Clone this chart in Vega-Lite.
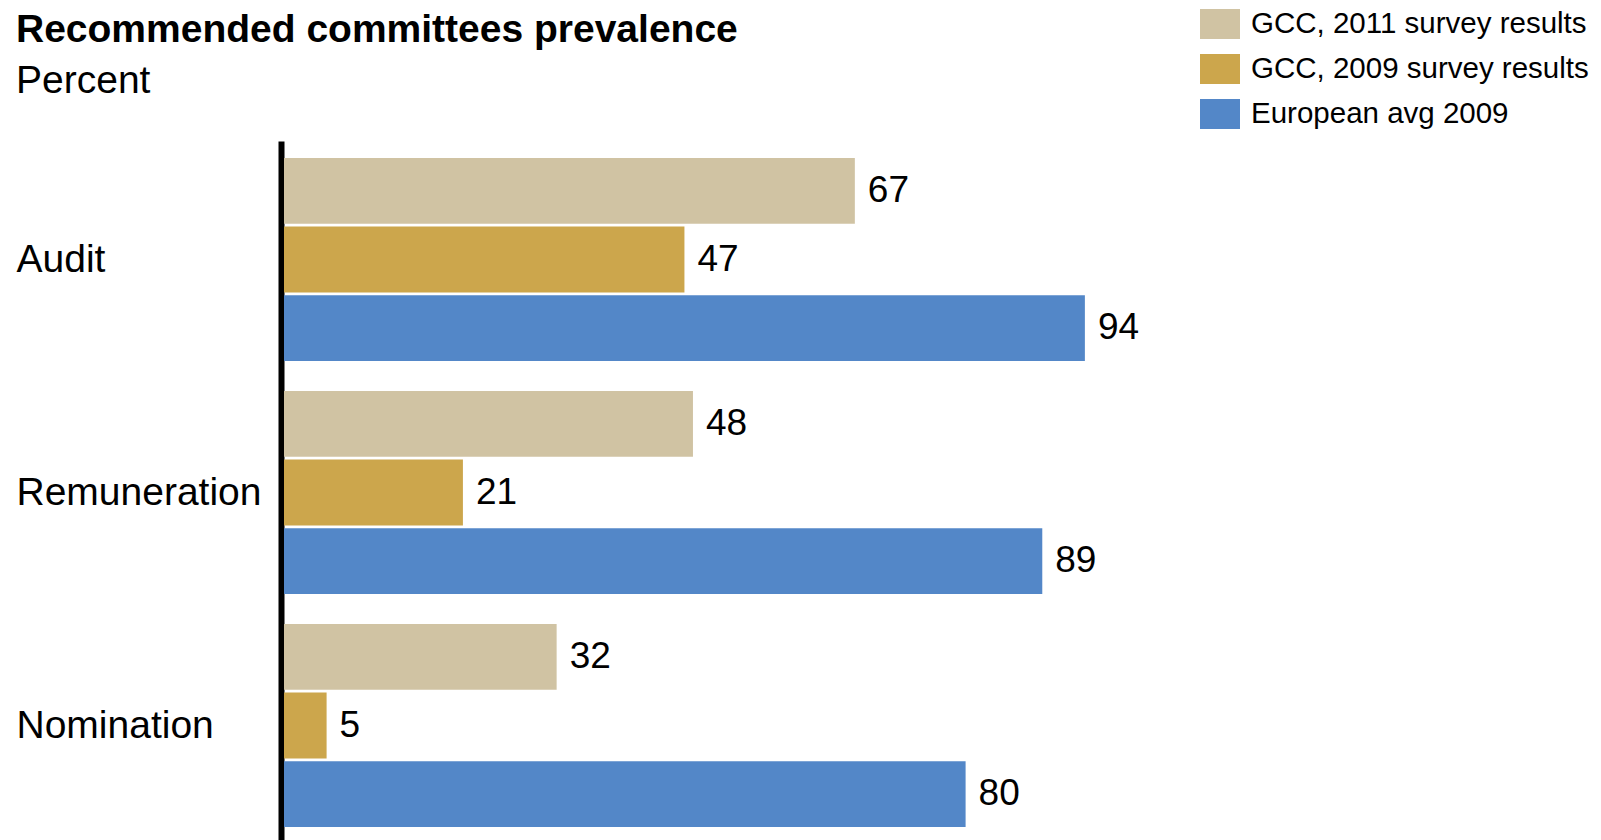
{
  "$schema": "https://vega.github.io/schema/vega-lite/v6.json",
  "autosize": "none",
  "width": 852,
  "height": 699,
  "padding": {"left": 284, "top": 141, "right": 465, "bottom": 0},
  "background": "white",
  "title": {
    "text": "Recommended committees prevalence",
    "subtitle": "Percent",
    "anchor": "start",
    "frame": "group",
    "dx": -268,
    "offset": -97,
    "font": "Liberation Sans",
    "fontSize": 39,
    "fontWeight": "bold",
    "color": "#000000",
    "subtitleFont": "Liberation Sans",
    "subtitleFontSize": 39,
    "subtitleFontWeight": "normal",
    "subtitleColor": "#000000",
    "subtitlePadding": 12
  },
  "data": {
    "values": [
      {"committee": "Audit", "series": "GCC, 2011 survey results", "value": 67},
      {"committee": "Audit", "series": "GCC, 2009 survey results", "value": 47},
      {"committee": "Audit", "series": "European avg 2009", "value": 94},
      {"committee": "Remuneration", "series": "GCC, 2011 survey results", "value": 48},
      {"committee": "Remuneration", "series": "GCC, 2009 survey results", "value": 21},
      {"committee": "Remuneration", "series": "European avg 2009", "value": 89},
      {"committee": "Nomination", "series": "GCC, 2011 survey results", "value": 32},
      {"committee": "Nomination", "series": "GCC, 2009 survey results", "value": 5},
      {"committee": "Nomination", "series": "European avg 2009", "value": 80}
    ]
  },
  "encoding": {
    "y": {
      "field": "committee",
      "type": "nominal",
      "sort": ["Audit", "Remuneration", "Nomination"],
      "scale": {"paddingInner": 0.1288, "paddingOuter": 0.0644, "align": 0.567},
      "axis": {
        "title": null,
        "domainColor": "#000000",
        "domainWidth": 6,
        "offset": 3,
        "ticks": false,
        "tickSize": 0,
        "labelAlign": "left",
        "labelBaseline": "middle",
        "labelPadding": 265,
        "labelLimit": 0,
        "labelFont": "Liberation Sans",
        "labelFontSize": 39,
        "labelColor": "#000000",
        "grid": false
      }
    },
    "yOffset": {
      "field": "series",
      "type": "nominal",
      "sort": ["GCC, 2011 survey results", "GCC, 2009 survey results", "European avg 2009"],
      "scale": {"paddingInner": 0.04, "paddingOuter": 0}
    },
    "x": {
      "field": "value",
      "type": "quantitative",
      "scale": {"domain": [0, 100], "nice": false},
      "axis": null
    }
  },
  "layer": [
    {
      "mark": {"type": "bar"},
      "encoding": {
        "color": {
          "field": "series",
          "type": "nominal",
          "sort": ["GCC, 2011 survey results", "GCC, 2009 survey results", "European avg 2009"],
          "scale": {
            "domain": ["GCC, 2011 survey results", "GCC, 2009 survey results", "European avg 2009"],
            "range": ["#D0C3A3", "#CCA64C", "#5387C8"]
          },
          "legend": {
            "orient": "none",
            "legendX": 916,
            "legendY": -137,
            "title": null,
            "padding": 0,
            "symbolType": "M-1,-0.75H1V0.75H-1Z",
            "symbolSize": 1600,
            "symbolStrokeWidth": 0,
            "symbolOpacity": 1,
            "labelFont": "Liberation Sans",
            "labelFontSize": 29.5,
            "labelColor": "#000000",
            "labelOffset": 11,
            "labelLimit": 0,
            "rowPadding": 10
          }
        }
      }
    },
    {
      "mark": {
        "type": "text",
        "align": "left",
        "baseline": "middle",
        "dx": 13,
        "font": "Liberation Sans",
        "fontSize": 37,
        "color": "#000000"
      },
      "encoding": {"text": {"field": "value", "type": "quantitative"}}
    }
  ],
  "config": {"view": {"stroke": null}}
}
